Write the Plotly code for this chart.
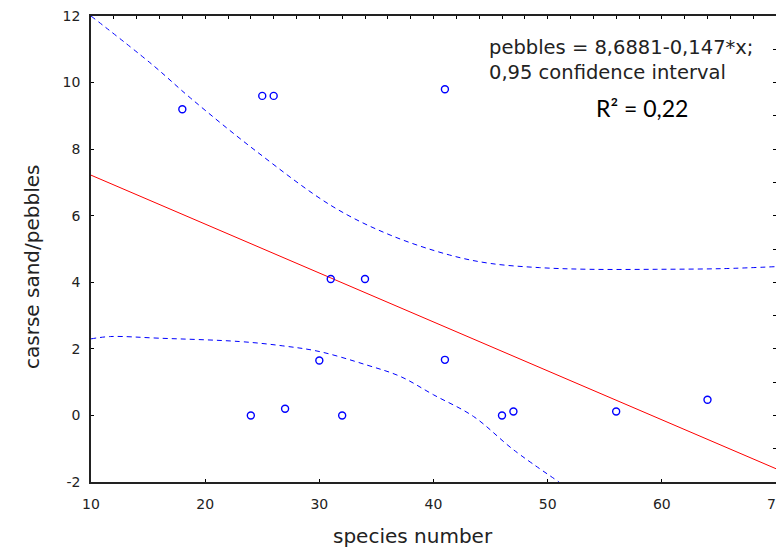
import plotly.graph_objects as go

# observed data
species = [18, 25, 26, 41, 31, 34, 30, 24, 27, 32, 41, 46, 47, 56, 64]
pebbles = [9.2, 9.6, 9.6, 9.8, 4.1, 4.1, 1.65, 0.0, 0.2, 0.0, 1.67, 0.0, 0.12, 0.12, 0.47]

# regression line endpoints (pebbles = 8.6881 - 0.147*x)
fit_x = [10, 70]
fit_y = [7.218, -1.601]

# 0.95 confidence bands
upper_x = [10, 15.4, 18.7, 24.5, 31.2, 36.2, 41.4, 44.9, 49.3, 53.7, 59.5, 65.3, 70]
upper_y = [12.0, 10.53, 9.54, 7.93, 6.27, 5.42, 4.82, 4.57, 4.44, 4.39, 4.39, 4.41, 4.47]
lower_x = [10, 11.7, 16, 23, 26.8, 30, 34.1, 37.1, 40, 43.5, 47, 51.0]
lower_y = [2.3, 2.37, 2.32, 2.22, 2.09, 1.92, 1.52, 1.17, 0.62, -0.03, -1.03, -2.0]

xticks = [10, 20, 30, 40, 50, 60, 70]
xticklabels = ["10", "20", "30", "40", "50", "60", "70"]
yticks = [-2, 0, 2, 4, 6, 8, 10, 12]
yticklabels = ["-2", "0", "2", "4", "6", "8", "10", "12"]

font = "DejaVu Sans, sans-serif"
txt = "#222222"

# the page body has an 8px margin; figure is offset by it
OFF = 8
FW, FH = 784, 549 - OFF
L, R, T, B = 91 - OFF, 776 - OFF, 16 - OFF, 482 - OFF
W, H = R - L, B - T

def px(x):
    return (x - OFF - L) / W

def py(y):
    return 1 - (y - OFF - T) / H

fig = go.Figure()
band = dict(color="#0000ff", width=1, dash="5px,4px", shape="spline")
fig.add_trace(go.Scatter(x=upper_x, y=upper_y, mode="lines", line=band, hoverinfo="skip"))
fig.add_trace(go.Scatter(x=lower_x, y=lower_y, mode="lines", line=band, hoverinfo="skip"))
fig.add_trace(go.Scatter(x=fit_x, y=fit_y, mode="lines", line=dict(color="#ff0000", width=1)))
fig.add_trace(go.Scatter(x=species, y=pebbles, mode="markers",
                         marker=dict(symbol="circle-open", size=7, color="#0000ff",
                                     line=dict(width=1.4, color="#0000ff"))))
# invisible trace for secondary (top/right) tick axes
fig.add_trace(go.Scatter(x=[10], y=[-2], xaxis="x2", yaxis="y2", mode="markers",
                         marker=dict(opacity=0), hoverinfo="skip"))

common = dict(ticks="inside", ticklen=3, tickcolor="black", showline=True, linecolor="#222",
              linewidth=1.5, showgrid=False, zeroline=False, automargin=False)

fig.update_layout(
    width=FW, height=FH,
    margin=dict(l=L, r=FW - R, t=T, b=FH - B),
    paper_bgcolor="white", plot_bgcolor="white",
    showlegend=False,
    font=dict(family=font, color=txt, size=14),
    xaxis=dict(range=[10, 70], tickvals=xticks, ticktext=xticklabels, ticklabelstandoff=8,
               ticklabeloverflow="allow",
               tickfont=dict(size=14, family=font, color=txt), **common),
    yaxis=dict(range=[-2, 12], tickvals=yticks, ticktext=yticklabels, ticklabelstandoff=6,
               ticklabeloverflow="allow",
               tickfont=dict(size=14, family=font, color=txt), **common),
    xaxis2=dict(range=[10, 70], overlaying="x", side="top", dtick=2, tick0=10,
                showticklabels=False, **common),
    yaxis2=dict(range=[-2, 12], overlaying="y", side="right", dtick=1, tick0=-2,
                showticklabels=False, **common),
)

fig.add_annotation(xref="paper", yref="paper", x=px(413), y=py(536), xanchor="center", yanchor="middle",
                   text="species number", showarrow=False, font=dict(family=font, size=20, color=txt))
fig.add_annotation(xref="paper", yref="paper", x=px(32), y=py(267), xanchor="center", yanchor="middle",
                   text="casrse sand/pebbles", textangle=-90, showarrow=False,
                   font=dict(family=font, size=20, color=txt))
fig.add_annotation(xref="paper", yref="paper", x=px(487), y=py(60.5), xanchor="left", yanchor="middle",
                   text="pebbles = 8,6881-0,147*x;<br>0,95 confidence interval", align="left", showarrow=False,
                   font=dict(family=font, size=19.5, color=txt))
fig.add_annotation(xref="paper", yref="paper", x=px(594), y=py(108), xanchor="left", yanchor="middle",
                   text="R²\u00a0=\u00a00,22", showarrow=False,
                   font=dict(family="Lato, Carlito, sans-serif", size=23, color="black"))

fig.write_html("out.html")
